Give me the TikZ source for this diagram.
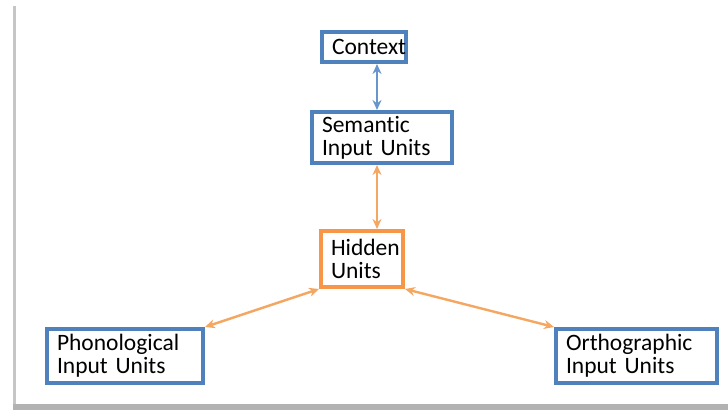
\documentclass[tikz,border=0pt]{standalone}
\usepackage{fontspec}
\setmainfont[Ligatures=NoCommon]{Carlito}
\usetikzlibrary{arrows.meta}
\definecolor{unitblue}{RGB}{79,129,189}
\definecolor{unitorange}{RGB}{247,150,70}
\definecolor{linkblue}{RGB}{104,150,204}
\definecolor{linkorange}{RGB}{245,166,96}

\begin{document}
\begin{tikzpicture}[x=1pt,y=-1pt]
  \tikzstyle{unit}=[
       draw=unitblue,
       line width=4pt,
       fill=white,
       inner sep=0pt,
       align=left,
       font=\fontsize{23.5}{23}\selectfont]
  \tikzstyle{hidden}=[unit, draw=unitorange]
  \tikzstyle{link}=[line width=2.4pt, {Stealth[length=10pt,width=9pt]}-{Stealth[length=10pt,width=9pt]}]
  \useasboundingbox (0,0) rectangle (728,410);
  % frame shadow
  \fill[gray!45] (13,6) rectangle (16,404);
  \fill[gray!60] (13,404) rectangle (728,410);

  \node[unit, minimum width=84pt, minimum height=30pt, text width=64pt] (ctx) at (364,47) {Context};
  \node[unit, minimum width=140pt, minimum height=51pt, text width=120pt] (sem) at (382,137.5) {Semantic\\Input Units};
  \node[hidden, minimum width=82pt, minimum height=56pt, text width=62pt] (hid) at (362,259) {Hidden\\Units};
  \node[unit, minimum width=156pt, minimum height=54pt, text width=136pt] (pho) at (125,356) {Phonological\\Input Units};
  \node[unit, minimum width=161pt, minimum height=54pt, text width=141pt] (ort) at (636.5,356) {Orthographic\\Input Units};

  \draw[link, linkblue] ([xshift=13pt]ctx.south) -- ([xshift=-5pt]sem.north);
  \draw[link, linkorange] ([xshift=-5pt]sem.south) -- ([xshift=15pt]hid.north);
  \draw[link, linkorange] (hid.south west) -- (pho.north east);
  \draw[link, linkorange] (hid.south east) -- (ort.north west);
\end{tikzpicture}
\end{document}
